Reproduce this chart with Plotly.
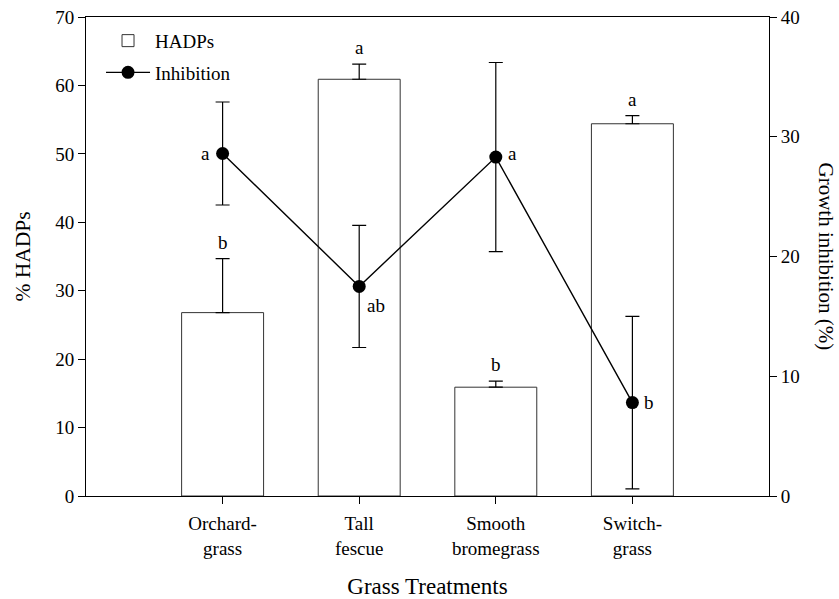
import plotly.graph_objects as go

categories = ["Orchard-<br>grass", "Tall<br>fescue", "Smooth<br>bromegrass", "Switch-<br>grass"]
hadps = [26.8, 60.9, 15.9, 54.4]
hadps_err = [7.9, 2.2, 0.9, 1.2]
hadps_letters = ["b", "a", "b", "a"]
inhibition = [28.6, 17.5, 28.3, 7.8]
inhibition_err = [4.3, 5.1, 7.9, 7.2]
inhibition_letters = ["a", "ab", "a", "b"]

FONT = "Liberation Serif"
xpos = list(range(len(categories)))

fig = go.Figure()
fig.add_trace(go.Bar(
    x=xpos, y=hadps, name="HADPs", width=0.6, legendgroup="g1",
    marker=dict(color="white", line=dict(color="#333333", width=1)),
    error_y=dict(type="data", array=hadps_err, arrayminus=[0] * len(hadps_err),
                 symmetric=False, color="black", thickness=1.2, width=7),
    yaxis="y",
))
fig.add_trace(go.Scatter(
    x=xpos, y=inhibition, name="Inhibition", mode="lines+markers", legendgroup="g2",
    line=dict(color="black", width=1.4),
    marker=dict(color="black", size=13, symbol="circle"),
    error_y=dict(type="data", array=inhibition_err, color="black", thickness=1.2, width=7),
    yaxis="y2",
))

# significance letters
for i, (v, e, t) in enumerate(zip(hadps, hadps_err, hadps_letters)):
    fig.add_annotation(x=i, y=v + e, yref="y", text=t, showarrow=False,
                       yanchor="bottom", yshift=4, font=dict(size=19, family=FONT, color="black"))
inh_offsets = [(-17, 0), (17, -19), (17, 4), (17, 0)]
for i, (v, t) in enumerate(zip(inhibition, inhibition_letters)):
    dx, dy = inh_offsets[i]
    fig.add_annotation(x=i, y=v, yref="y2", text=t, showarrow=False,
                       xshift=dx, yshift=dy, font=dict(size=19, family=FONT, color="black"))

# right axis title (reads top-to-bottom)
fig.add_annotation(xref="paper", yref="paper", x=1, y=0.5, xanchor="center", yanchor="middle",
                   xshift=57, text="Growth inhibition (%)",
                   textangle=90, showarrow=False, font=dict(size=21, family=FONT, color="black"))

axis_common = dict(showline=True, linecolor="black", linewidth=1, ticks="outside", ticklen=7,
                   tickcolor="black", tickwidth=1, showgrid=False, zeroline=False, automargin=False,
                   tickfont=dict(size=19, family=FONT, color="black"))

fig.update_layout(
    width=839, height=599,
    margin=dict(l=86, r=70, t=17, b=103),
    paper_bgcolor="white", plot_bgcolor="white",
    font=dict(family=FONT, color="black"),
    xaxis=dict(**axis_common, tickvals=xpos, ticktext=categories, range=[-1, 4], mirror=True,
               ticklabelstandoff=3,
               title=dict(text="Grass Treatments", font=dict(size=23, family=FONT), standoff=24)),
    yaxis=dict(**axis_common, range=[0, 70], dtick=10, mirror=False,
               title=dict(text="% HADPs", font=dict(size=21.5, family=FONT), standoff=18)),
    yaxis2=dict(**axis_common, range=[0, 40], dtick=10, overlaying="y", side="right"),
    legend=dict(x=0.022, y=0.99, xanchor="left", yanchor="top", bgcolor="rgba(0,0,0,0)",
                itemwidth=44, tracegroupgap=4,
                font=dict(size=19, family=FONT, color="black")),
    showlegend=True,
)
fig.write_html("out.html")
